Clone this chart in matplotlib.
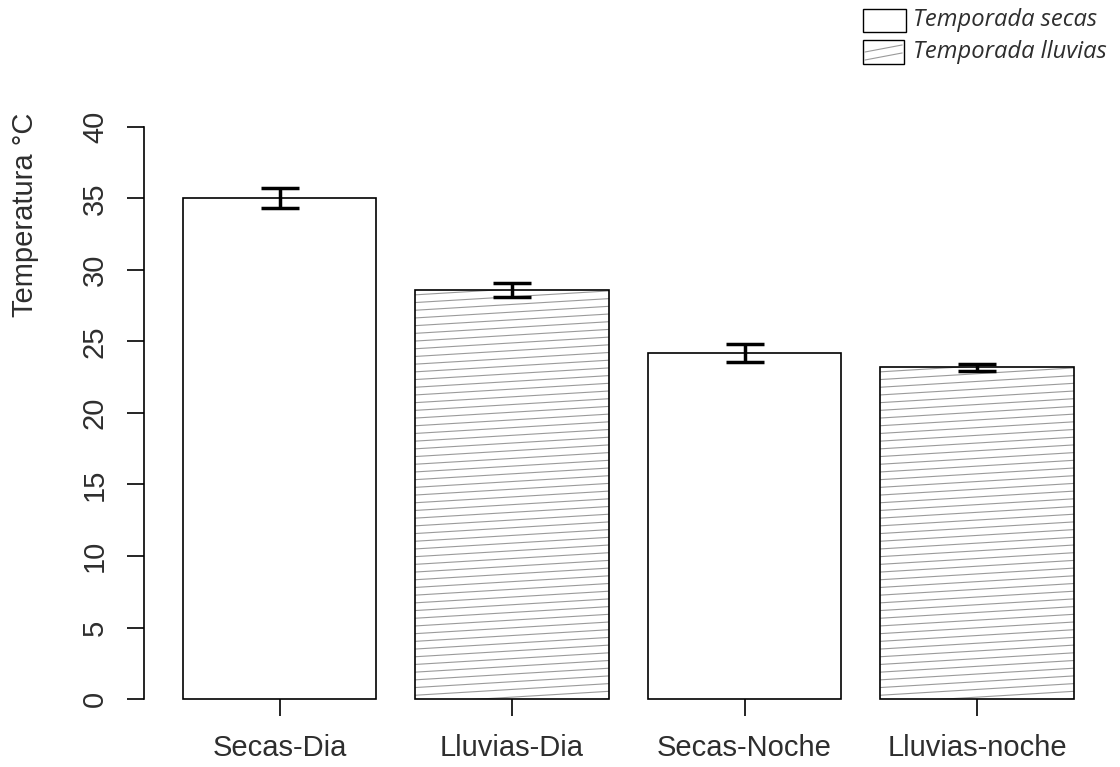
import numpy as np
import matplotlib.pyplot as plt
from matplotlib.collections import LineCollection
from matplotlib.patches import Rectangle

plt.rcParams['font.family'] = ['Liberation Sans', 'DejaVu Sans']

# Temperatura media por grupo y error estandar
grupos = ['Secas-Dia', 'Lluvias-Dia', 'Secas-Noche', 'Lluvias-noche']
temperatura = [35.0, 28.6, 24.2, 23.2]
error = [0.7, 0.47, 0.6, 0.25]
rayado = [False, True, False, True]
yticks = [0, 5, 10, 15, 20, 25, 30, 35, 40]
leyenda = ['Temporada secas', 'Temporada lluvias']

W, H = 1120, 767
fig = plt.figure(figsize=(W / 100, H / 100), dpi=100)
ax = fig.add_axes([143.9 / W, 0.0588, 968.75 / W, 0.8055])
ax.set_xlim(0, 5)
ax.set_ylim(-1.6, 41.6)

# posiciones al estilo barplot de R (ancho 1, espacio 0.2)
x = 0.7 + 1.2 * np.arange(len(grupos))
txt = '#2e2e2e'

bars = ax.bar(x, temperatura, width=1, color='white', edgecolor='black',
              linewidth=1.2, zorder=2)

# escala en pixeles para el rayado
p0 = ax.transData.transform((0, 0))
p1 = ax.transData.transform((1, 1))
px_x, px_y = p1[0] - p0[0], p1[1] - p0[1]


def rayar(patch, x0, x1, y0, y1, pendiente, sep_px, ax):
    # lineas finas inclinadas recortadas al rectangulo
    m = pendiente * px_x / px_y
    sep = sep_px / px_y
    segs = []
    c = y0 - m * (x1 - x0)
    while c < y1:
        segs.append([(x0, c), (x1, c + m * (x1 - x0))])
        c += sep
    lc = LineCollection(segs, colors='#9a9a9a', linewidths=0.8, zorder=2.5)
    ax.add_collection(lc)
    lc.set_clip_path(patch)


for b, h in zip(bars, rayado):
    if h:
        rayar(b, b.get_x(), b.get_x() + b.get_width(), 0, b.get_height(),
              0.06, 7.7, ax)
        b.set_zorder(3)
        b.set_facecolor('none')

ax.errorbar(x, temperatura, yerr=error, fmt='none', ecolor='black',
            elinewidth=2.5, capsize=14, capthick=2.5, zorder=4)

for s in ['top', 'right']:
    ax.spines[s].set_visible(False)
ax.spines['left'].set_bounds(0, 40)
ax.spines['left'].set_linewidth(1.2)
ax.spines['bottom'].set_position(('data', 0))
ax.spines['bottom'].set_color('none')

ax.set_yticks(yticks)
ax.set_yticklabels([str(v) for v in yticks], rotation=90, va='center',
                   fontsize=21, color=txt)
ax.set_xticks(x)
ax.set_xticklabels(grupos, fontsize=21, color=txt)
ax.tick_params(axis='y', length=12.2, width=1.2, pad=13)
ax.tick_params(axis='x', length=12.2, width=1.2, pad=13)

fig.text(25 / W, 1 - 215 / H, 'Temperatura °C', rotation=90, ha='center',
         va='center', fontsize=21, color=txt)

# leyenda en la esquina superior derecha
cajas = [(863, 9, 43, 23), (863, 40, 41, 24)]
for (bx, by, bw, bh), lab in zip(cajas, leyenda):
    r = Rectangle((bx / W, 1 - (by + bh) / H), bw / W, bh / H,
                  transform=fig.transFigure, facecolor='white',
                  edgecolor='black', linewidth=1.0)
    fig.add_artist(r)
    fig.text(913 / W, 1 - (by + bh / 2) / H, lab, ha='left',
             va='center', fontsize=17.1, style='italic', color=txt,
             family=['Open Sans', 'DejaVu Sans'])
bx, by, bw, bh = cajas[1]
for yy in (52, 60):
    fig.add_artist(plt.Line2D([(bx + 2) / W, (bx + bw - 2) / W],
                              [1 - yy / H, 1 - (yy - 7) / H],
                              transform=fig.transFigure, color='#9a9a9a',
                              linewidth=0.8))

fig.savefig('out.png', dpi=100)
